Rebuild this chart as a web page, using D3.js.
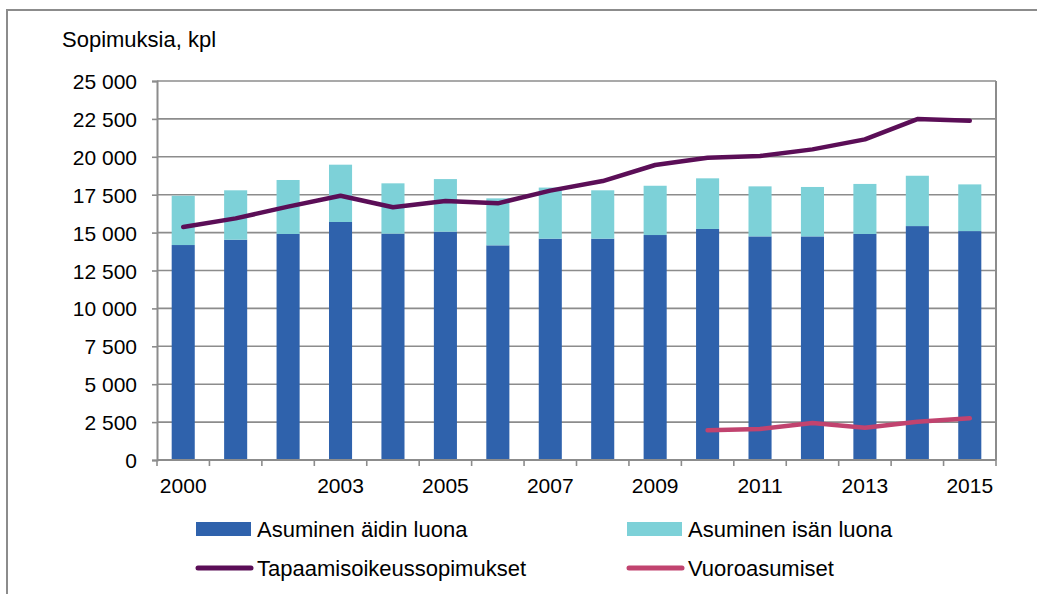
<!DOCTYPE html>
<html><head><meta charset="utf-8">
<script src="https://cdn.jsdelivr.net/npm/d3@7"></script>
<style>
html,body{margin:0;padding:0;background:#fff;}
svg text{font-family:"Liberation Sans",Arial,sans-serif;fill:#000;}
</style></head>
<body><svg id="c" width="1037" height="594"></svg>
<script>
const years = ["2000","2001","2002","2003","2004","2005","2006","2007","2008","2009","2010","2011","2012","2013","2014","2015"];
const xLabels = ["2000","","","2003","","2005","","2007","","2009","","2011","","2013","","2015"];
const aitiValues = [14180,14530,14910,15700,14930,15060,14160,14600,14600,14840,15240,14750,14750,14910,15430,15100];
const isaValues  = [3250,3260,3560,3780,3320,3470,3100,3370,3190,3250,3340,3300,3260,3300,3320,3080];
const tapaamisValues = [15370,15940,16710,17430,16670,17080,16930,17770,18400,19460,19940,20050,20490,21150,22490,22380];
const vuoroYears = ["2010","2011","2012","2013","2014","2015"];
const vuoroValues = [1960,2050,2440,2130,2530,2750];
const yTickValues = [0,2500,5000,7500,10000,12500,15000,17500,20000,22500,25000];
const seriesNames = ["Asuminen äidin luona","Asuminen isän luona","Tapaamisoikeussopimukset","Vuoroasumiset"];
const colors = ["#2f62ac","#7dd1d8","#5b0e57","#c1436f"];

const svg = d3.select("#c");
const L=157, R=996, T=81, B=460;
const gray="#8c8c8c";

// outer frame
svg.append("rect").attr("x",7).attr("y",10).attr("width",1060).attr("height",620)
  .attr("fill","none").attr("stroke",gray).attr("stroke-width",2);

const x = d3.scaleBand().domain(years).range([L,R]).paddingInner(0.56).paddingOuter(0.28);
const y = d3.scaleLinear().domain([0,25000]).range([B,T]);
const fmt = d3.formatLocale({decimal:",",thousands:"\u00a0",grouping:[3],currency:["","€"]}).format(",d");

// gridlines
svg.append("g").selectAll("line").data(yTickValues).join("line")
  .attr("x1",L).attr("x2",R).attr("y1",d=>y(d)).attr("y2",d=>y(d))
  .attr("stroke",gray).attr("stroke-width",1.6);

// y axis
const yAxis = svg.append("g").attr("transform",`translate(${L},0)`)
  .call(d3.axisLeft(y).tickValues(yTickValues).tickFormat(fmt).tickSize(5).tickPadding(15));
yAxis.select(".domain").attr("stroke",gray).attr("stroke-width",2);
yAxis.selectAll(".tick line").attr("stroke",gray).attr("stroke-width",1.6);
yAxis.selectAll(".tick text").attr("font-size",21).attr("font-family","Liberation Sans, Arial, sans-serif").attr("dy","0.36em");

// right border
svg.append("line").attr("x1",R).attr("x2",R).attr("y1",T).attr("y2",B).attr("stroke",gray).attr("stroke-width",2);

// bars
const stackData = years.map((yr,i)=>({yr, a:aitiValues[i], b:isaValues[i]}));
svg.append("g").selectAll("rect.a").data(stackData).join("rect")
  .attr("x",d=>x(d.yr)).attr("width",x.bandwidth())
  .attr("y",d=>y(d.a)).attr("height",d=>y(0)-y(d.a)).attr("fill",colors[0]);
svg.append("g").selectAll("rect.b").data(stackData).join("rect")
  .attr("x",d=>x(d.yr)).attr("width",x.bandwidth())
  .attr("y",d=>y(d.a+d.b)).attr("height",d=>y(d.a)-y(d.a+d.b)).attr("fill",colors[1]);

// x axis
const step = x.step();
const xa = svg.append("g");
xa.append("line").attr("x1",L).attr("x2",R).attr("y1",B).attr("y2",B).attr("stroke",gray).attr("stroke-width",2);
xa.selectAll("line.t").data(d3.range(years.length+1)).join("line")
  .attr("x1",i=>L+i*step).attr("x2",i=>L+i*step).attr("y1",B).attr("y2",B+6)
  .attr("stroke",gray).attr("stroke-width",1.6);
xa.selectAll("text").data(years).join("text")
  .attr("x",d=>x(d)+x.bandwidth()/2).attr("y",493).attr("text-anchor","middle")
  .attr("font-size",21).text((d,i)=>xLabels[i]);

// lines
const cx = d=>x(d)+x.bandwidth()/2;
const line = d3.line().x(d=>cx(d[0])).y(d=>y(d[1]));
svg.append("path").datum(years.map((yr,i)=>[yr,tapaamisValues[i]]))
  .attr("d",line).attr("fill","none").attr("stroke",colors[2]).attr("stroke-width",4.5)
  .attr("stroke-linejoin","round").attr("stroke-linecap","round");
svg.append("path").datum(vuoroYears.map((yr,i)=>[yr,vuoroValues[i]]))
  .attr("d",line).attr("fill","none").attr("stroke",colors[3]).attr("stroke-width",4.5)
  .attr("stroke-linejoin","round").attr("stroke-linecap","round");

// title
svg.append("text").attr("x",62).attr("y",47).attr("font-size",22).text("Sopimuksia, kpl");

// legend
const leg = [
  {n:seriesNames[0], c:colors[0], t:"rect", x:196, y:529},
  {n:seriesNames[1], c:colors[1], t:"rect", x:627, y:529},
  {n:seriesNames[2], c:colors[2], t:"line", x:196, y:568},
  {n:seriesNames[3], c:colors[3], t:"line", x:627, y:568}
];
const lg = svg.append("g").selectAll("g").data(leg).join("g");
lg.filter(d=>d.t==="rect").append("rect").attr("x",d=>d.x).attr("y",d=>d.y-7).attr("width",55).attr("height",14).attr("fill",d=>d.c);
lg.filter(d=>d.t==="line").append("line").attr("x1",d=>d.x+2).attr("x2",d=>d.x+55).attr("y1",d=>d.y).attr("y2",d=>d.y)
  .attr("stroke",d=>d.c).attr("stroke-width",5).attr("stroke-linecap","round");
lg.append("text").attr("x",d=>d.x+61).attr("y",d=>d.y+8).attr("font-size",22).text(d=>d.n);
</script></body></html>
